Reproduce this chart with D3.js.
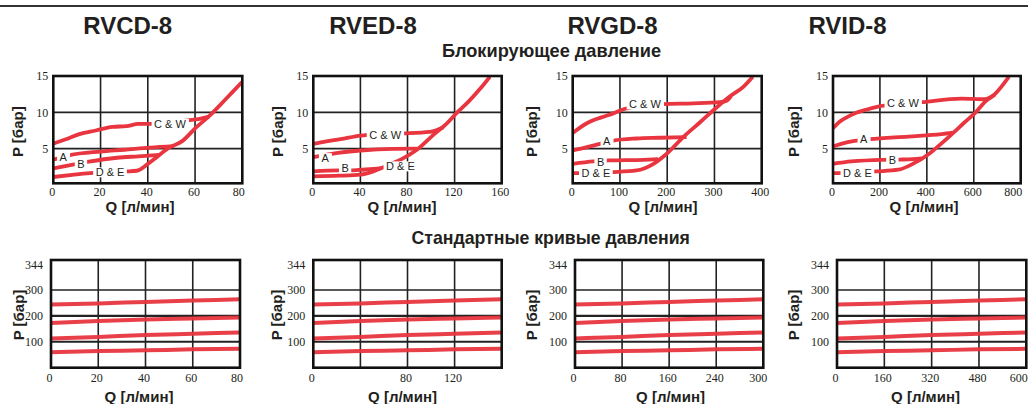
<!DOCTYPE html>
<html><head><meta charset="utf-8">
<script src="https://cdn.jsdelivr.net/npm/d3@7"></script>
<style>
body{margin:0;background:#fff;}
svg{display:block;}
</style>
</head><body>
<svg id="c" width="1028" height="404"></svg>
<script>
// ---------------- DATA ----------------
const titles = ["RVCD-8", "RVED-8", "RVGD-8", "RVID-8"];
const heading1 = "Блокирующее давление";
const heading2 = "Стандартные кривые давления";
const yLabel = "P [бар]";
const xLabel = "Q [л/мин]";
const seriesNames = ["C & W", "A", "B", "D & E"];

// top row (blocking pressure), Q max and tick values
const topQMax = [80, 160, 400, 800];
const topQTicks = [[0,20,40,60,80],[0,40,80,120,160],[0,100,200,300,400],[0,200,400,600,800]];
const topPTicks = [5, 10, 15];

// RVCD-8 curves [Q, P]
const rvcdCW = [[0,5.7],[5,6.25],[11,7.0],[18,7.5],[25,8.0],[31,8.1],[36,8.4],[41,8.4],[49,8.6],[57,8.9],[62,9.1],[66,9.4]];
const rvcdA  = [[0,3.5],[4,3.85],[7,4.1],[20,4.6],[30,4.85],[41,5.15],[51,5.35]];
const rvcdB  = [[0,2.3],[10,2.9],[15,3.2],[27,3.75],[36,3.95],[45,4.15]];
const rvcdDE = [[0,1.1],[8,1.4],[15.5,1.64],[25,1.8],[31,1.87],[35.3,1.96],[40,2.9],[44,3.9],[49.4,5.2],[54.4,6.0],[60.7,8.0],[65.7,9.4],[70.6,11.0],[75,12.5],[80,14.2]];
const rvcdLabelPos = [[49.4,8.4],[4.2,3.9],[11.7,2.9],[24,1.74]];

// RVED-8
const rvedCW = [[0,5.66],[11,6.0],[23,6.3],[40,6.8],[58,7.0],[76,7.1],[99,7.3],[110.5,7.95]];
const rvedA  = [[0,3.84],[15.6,4.3],[40,4.75],[68,4.98],[88,5.0]];
const rvedB  = [[0,1.87],[21,2.0],[31,2.0],[40,2.1],[51,2.2],[58,2.33]];
const rvedDE = [[0,1.2],[22,1.28],[40,1.42],[51,1.87],[58,2.33],[66,2.9],[75,3.56],[88,4.84],[102,6.9],[113,8.4],[122,9.95],[132,11.5],[142,13.3],[150,14.9]];
const rvedLabelPos = [[61,6.9],[10,3.7],[27,2.33],[74,2.56]];

// RVGD-8
const rvgdCW = [[0,7.15],[15.5,7.9],[30,8.5],[47,9.0],[65,9.4],[86,9.86],[111,10.5],[150,10.9],[192,11.14],[255,11.23],[312,11.4],[326,11.6],[335,12.2]];
const rvgdA  = [[0,4.75],[30,5.2],[58,5.66],[86,6.1],[135,6.4],[185,6.5],[241,6.6]];
const rvgdB  = [[0,2.92],[44,3.24],[75,3.38],[150,3.47],[181,3.56]];
const rvgdDE = [[0,1.64],[12,1.64],[50,1.7],[86,1.78],[135,2.0],[171,2.92],[199,4.3],[234,6.6],[269,8.6],[305,10.7],[333,12.2],[361,13.5],[381,14.9]];
const rvgdLabelPos = [[153,11.1],[72,6.07],[59,3.1],[49,1.64]];

// RVID-8
const rvidCW = [[0,7.8],[28,8.7],[64,9.4],[99,9.95],[135,10.3],[192,10.8],[290,11.1],[380,11.4],[547,11.9],[646,11.8],[689,12.4]];
const rvidA  = [[0,5.3],[35,5.66],[92,6.07],[156,6.3],[320,6.67],[462,7.0],[511,7.2]];
const rvidB  = [[0,2.92],[78,3.24],[206,3.47],[284,3.5],[340,3.55],[378,3.65]];
const rvidDE = [[0,1.64],[21,1.64],[100,1.7],[184,1.87],[278,2.1],[340,2.9],[410,4.3],[465,5.8],[515,7.25],[560,8.6],[608,10.0],[650,11.5],[690,12.5],[750,14.9]];
const rvidLabelPos = [[298,11.3],[131,6.3],[253,3.4],[104,1.64]];

// bottom row (standard pressure curves)
const stdQTicks  = [[0,20,40,60,80],[0,40,80,120,160],[0,80,160,240,320],[0,160,320,480,640]];
const stdQLabels = [["0","20","40","60","80"],["0","","80","120",""],["0","80","160","240","300"],["0","160","320","480","600"]];
const stdPTicks = [100, 200, 300, 344];
const stdCurve1 = [244, 248, 254, 259, 264];
const stdCurve2 = [173, 180, 186, 190, 194];
const stdCurve3 = [113, 119, 126, 131, 136];
const stdCurve4 = [60, 64, 67, 71, 73];

// ---------------- DRAW ----------------
const RED = "#e8353f";
const INK = "#231f20";
const SANS = "'Liberation Sans', Arial, sans-serif";
const SERIF = "'Liberation Serif', 'Times New Roman', serif";
const svg = d3.select("#c");

svg.append("line").attr("x1", 0).attr("x2", 1028).attr("y1", 6).attr("y2", 6)
  .attr("stroke", "#333").attr("stroke-width", 2);

const titleX = [127.7, 373, 612.5, 847.5];
titles.forEach((t, i) => {
  svg.append("text").attr("x", titleX[i]).attr("y", 33.7).attr("text-anchor", "middle")
    .attr("font-family", SANS).attr("font-weight", "bold").attr("font-size", 24)
    .attr("fill", INK).text(t);
});
svg.append("text").attr("x", 551.5).attr("y", 56.7).attr("text-anchor", "middle")
  .attr("font-family", SANS).attr("font-weight", "bold").attr("font-size", 18.2)
  .attr("fill", INK).text(heading1);
svg.append("text").attr("x", 550.7).attr("y", 244).attr("text-anchor", "middle")
  .attr("font-family", SANS).attr("font-weight", "bold").attr("font-size", 17.7)
  .attr("fill", INK).text(heading2);

const topSeries = [
  [rvcdCW, rvcdA, rvcdB, rvcdDE],
  [rvedCW, rvedA, rvedB, rvedDE],
  [rvgdCW, rvgdA, rvgdB, rvgdDE],
  [rvidCW, rvidA, rvidB, rvidDE]
];
const topLabels = [rvcdLabelPos, rvedLabelPos, rvgdLabelPos, rvidLabelPos];

const topFrameX = [[53.3,242.3],[313.3,501.7],[572.7,761.7],[833,1020.7]];
const botFrameX = [[51,240],[313.3,501.7],[575,763.3],[837,1026.3]];
const topYLabelX = [17.5, 277.5, 531.5, 793.5];
const botYLabelX = [18.5, 276.5, 531.5, 793.5];
const topQLabelX = [140, 402, 663, 924];
const botQLabelX = [139, 402.5, 670.5, 925.5];
const topLastShift = [-4, -2, -2, -8];
const botLastShift = [-3.5, -3, -5.5, -8];

function styleAxis(g, size) {
  g.select(".domain").remove();
  g.selectAll("text").attr("font-family", SERIF).attr("font-size", size).attr("fill", INK);
}

function gridLine(g, x1, y1, x2, y2, w) {
  g.append("line").attr("x1", x1).attr("y1", y1).attr("x2", x2).attr("y2", y2)
    .attr("stroke", "#222").attr("stroke-width", w);
}

// ---- top row ----
topSeries.forEach((series, i) => {
  const [x0, x1] = topFrameX[i];
  const fTop = 76, fBot = 183.3;
  const x = d3.scaleLinear().domain([0, topQMax[i]]).range([x0, x1]);
  const y = d3.scaleLinear().domain([0, 15]).range([185, 76]);
  const g = svg.append("g");

  topQTicks[i].slice(1, -1).forEach(q => gridLine(g, x(q), fTop, x(q), fBot, 1.6));
  topPTicks.slice(0, -1).forEach(p => gridLine(g, x0, y(p), x1, y(p), 1.6));

  const cid = "clipT" + i;
  svg.append("clipPath").attr("id", cid).append("rect")
    .attr("x", x0).attr("y", fTop).attr("width", x1 - x0).attr("height", fBot - fTop);
  const line = d3.line().x(d => x(d[0])).y(d => y(d[1])).curve(d3.curveMonotoneX);
  const cg = g.append("g").attr("clip-path", `url(#${cid})`);
  series.forEach(s => {
    cg.append("path").attr("d", line(s)).attr("fill", "none").attr("stroke", RED)
      .attr("stroke-width", 3.8).attr("stroke-linejoin", "round").attr("stroke-linecap", "butt");
  });

  // labels with white background
  topLabels[i].forEach((pos, k) => {
    const lg = g.append("g");
    const t = lg.append("text").attr("x", x(pos[0])).attr("y", y(pos[1]))
      .attr("text-anchor", "middle").attr("dominant-baseline", "central")
      .attr("font-family", SANS).attr("font-size", 11).attr("fill", INK).text(seriesNames[k]);
    const bb = t.node().getBBox();
    lg.insert("rect", "text").attr("x", bb.x - 2.5).attr("y", bb.y + 1)
      .attr("width", bb.width + 5).attr("height", bb.height - 2).attr("fill", "#fff");
  });

  g.append("rect").attr("x", x0).attr("y", fTop).attr("width", x1 - x0).attr("height", fBot - fTop)
    .attr("fill", "none").attr("stroke", "#111").attr("stroke-width", 2.6);

  const last = topQTicks[i].length - 1;
  const ax = g.append("g").attr("transform", `translate(0,${fBot})`)
    .call(d3.axisBottom(x).tickValues(topQTicks[i]).tickSize(0).tickPadding(4).tickFormat(d3.format("d")));
  styleAxis(ax, 12);
  ax.selectAll("text").attr("dx", (d, k) => k === last ? topLastShift[i] : -1.5);
  const ay = g.append("g").attr("transform", `translate(${x0},0)`)
    .call(d3.axisLeft(y).tickValues(topPTicks).tickSize(0).tickPadding(5).tickFormat(d3.format("d")));
  styleAxis(ay, 12);

  g.append("text").attr("transform", `translate(${topYLabelX[i]},131.7) rotate(-90)`)
    .attr("text-anchor", "middle").attr("dominant-baseline", "central")
    .attr("font-family", SANS).attr("font-weight", "bold").attr("font-size", 15)
    .attr("fill", INK).text(yLabel);
  g.append("text").attr("x", topQLabelX[i]).attr("y", 211.5).attr("text-anchor", "middle")
    .attr("font-family", SANS).attr("font-weight", "bold").attr("font-size", 15)
    .attr("fill", INK).text(xLabel);
});

// ---- bottom row ----
const stdCurves = [stdCurve1, stdCurve2, stdCurve3, stdCurve4];
stdQTicks.forEach((ticks, i) => {
  const [x0, x1] = botFrameX[i];
  const fTop = 260, fBot = 367.7;
  const x = d3.scaleLinear().domain([0, ticks[ticks.length - 1]]).range([x0, x1]);
  const y = d3.scaleLinear().domain([0, 300, 344]).range([367.7, 290, 265]);
  const g = svg.append("g");

  ticks.slice(1, -1).forEach(q => gridLine(g, x(q), fTop, x(q), fBot, 1.6));
  gridLine(g, x0, y(300), x1, y(300), 1.5);
  gridLine(g, x0, y(200), x1, y(200), 2.3);
  gridLine(g, x0, y(100), x1, y(100), 2.1);

  const line = d3.line().x((d, k) => x(ticks[k])).y(d => y(d)).curve(d3.curveMonotoneX);
  stdCurves.forEach(c => {
    g.append("path").attr("d", line(c)).attr("fill", "none").attr("stroke", RED)
      .attr("stroke-width", 4).attr("stroke-opacity", 0.95);
  });

  g.append("rect").attr("x", x0).attr("y", fTop).attr("width", x1 - x0).attr("height", fBot - fTop)
    .attr("fill", "none").attr("stroke", "#111").attr("stroke-width", 2.6);

  const last = ticks.length - 1;
  const ax = g.append("g").attr("transform", `translate(0,${fBot})`)
    .call(d3.axisBottom(x).tickValues(ticks).tickSize(0).tickPadding(5.5)
      .tickFormat((d, k) => stdQLabels[i][k]));
  styleAxis(ax, 12);
  ax.selectAll("text").attr("dx", (d, k) => k === last ? botLastShift[i] : -2);
  const ay = g.append("g").attr("transform", `translate(${x0},0)`)
    .call(d3.axisLeft(y).tickValues(stdPTicks).tickSize(0).tickPadding(8).tickFormat(d3.format("d")));
  styleAxis(ay, 12);

  g.append("text").attr("transform", `translate(${botYLabelX[i]},315) rotate(-90)`)
    .attr("text-anchor", "middle").attr("dominant-baseline", "central")
    .attr("font-family", SANS).attr("font-weight", "bold").attr("font-size", 15)
    .attr("fill", INK).text(yLabel);
  g.append("text").attr("x", botQLabelX[i]).attr("y", 401.7).attr("text-anchor", "middle")
    .attr("font-family", SANS).attr("font-weight", "bold").attr("font-size", 15)
    .attr("fill", INK).text(xLabel);
});
</script>
</body></html>
